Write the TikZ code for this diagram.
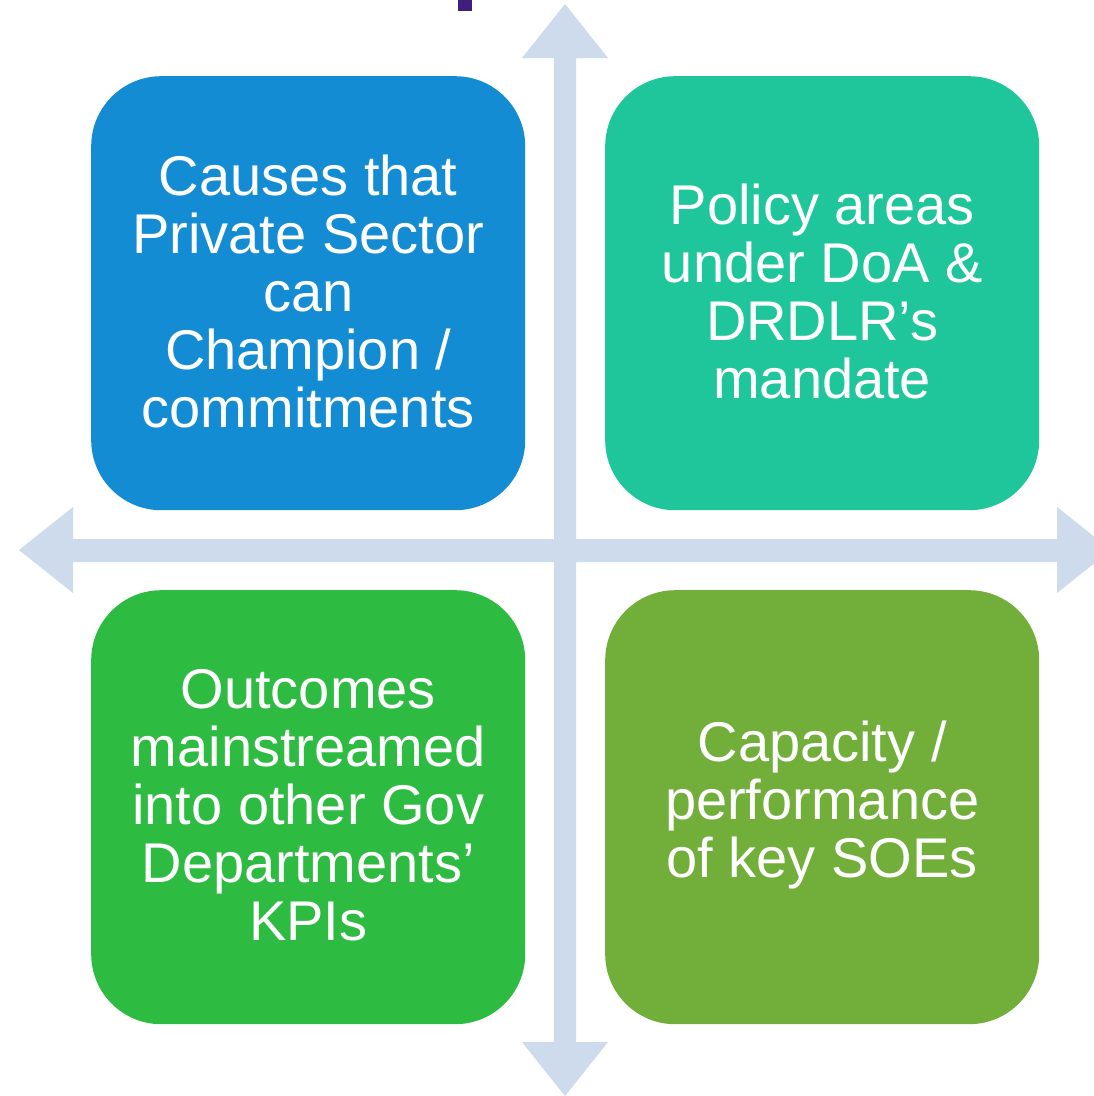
\documentclass[tikz,border=0pt]{standalone}
\usepackage{fontspec}
\setmainfont{Liberation Sans}
\definecolor{arrowblue}{HTML}{CDDBED}
\definecolor{boxblue}{HTML}{138CD3}
\definecolor{boxteal}{HTML}{20C69B}
\definecolor{boxgreen}{HTML}{2DBB42}
\definecolor{boxolive}{HTML}{71AF3A}
\definecolor{markpurple}{HTML}{3F1E7E}
\begin{document}
\begin{tikzpicture}[x=1pt,y=-1pt,
  quad/.style={rectangle, rounded corners=70pt, minimum width=434pt, minimum height=434pt,
    inner sep=0pt, anchor=north west},
  quadtext/.style={text=white, align=center, font=\fontsize{56}{58}\selectfont},
  axis/.style={fill=arrowblue, draw=none}]
\useasboundingbox (0,0) rectangle (1094,1096);
\clip (0,0) rectangle (1094,1096);
\fill[white] (0,0) rectangle (1094,1096);
% purple mark at top
\fill[markpurple] (458,0) rectangle (472,11);
% horizontal double arrow
\fill[axis] (19,550) -- (73,507) -- (73,539) -- (1057,539) -- (1057,507) -- (1111,550)
  -- (1057,593) -- (1057,562) -- (73,562) -- (73,593) -- cycle;
% vertical double arrow
\fill[axis] (565,4) -- (608,58) -- (576,58) -- (576,1042) -- (608,1042) -- (565,1096)
  -- (522,1042) -- (554,1042) -- (554,58) -- (522,58) -- cycle;
% quadrants
\node[quad, fill=boxblue] (tl) at (91,76) {};
\node[quad, fill=boxteal] (tr) at (605,76) {};
\node[quad, fill=boxgreen] (bl) at (91,590) {};
\node[quad, fill=boxolive] (br) at (605,590) {};
\node[quadtext] (tltext) at ([yshift=2pt]tl.center) {Causes that\\Private Sector\\can\\Champion /\\commitments};
\node[quadtext] (trtext) at ([yshift=2pt]tr.center) {Policy areas\\under DoA \&\\DRDLR’s\\mandate};
\node[quadtext] (bltext) at ([yshift=2pt]bl.center) {Outcomes\\mainstreamed\\into other Gov\\Departments’\\KPIs};
\node[quadtext] (brtext) at ([yshift=2pt]br.center) {Capacity /\\performance\\of key SOEs};
\end{tikzpicture}
\end{document}
